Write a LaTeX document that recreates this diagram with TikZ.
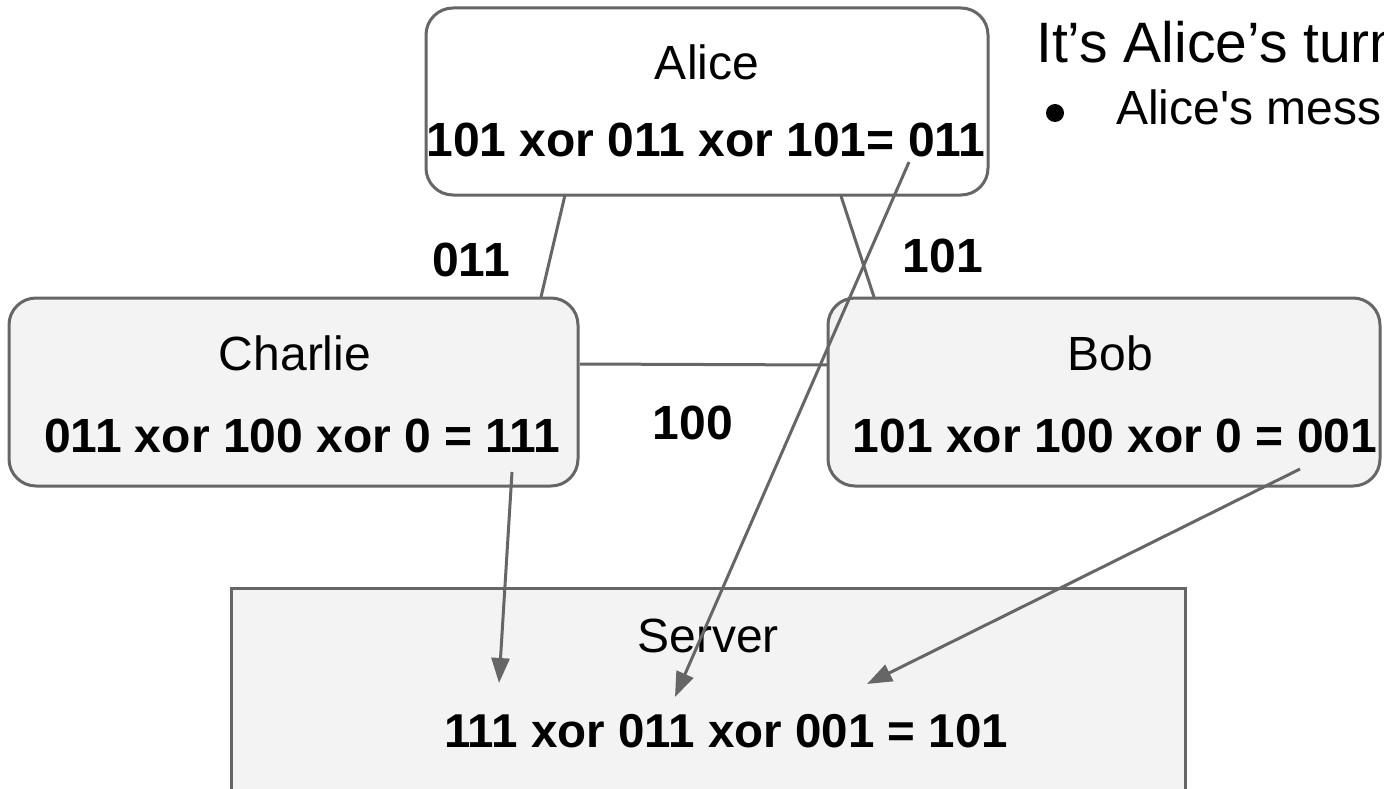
\documentclass[tikz,border=0pt]{standalone}
\usepackage{fontspec}
\setmainfont{Liberation Sans}
\newfontfamily\rawsans{Liberation Sans}
\usetikzlibrary{arrows.meta}
\definecolor{edgegray}{HTML}{666666}
\definecolor{boxfill}{HTML}{F3F3F3}
\begin{document}
\begin{tikzpicture}[x=1pt,y=-1pt,
  box/.style={draw=edgegray, line width=3pt, rounded corners=27pt, inner sep=0pt},
  txt/.style={anchor=base, inner sep=0pt, font=\fontsize{48}{56}\selectfont},
  btxt/.style={anchor=base, inner sep=0pt, font=\fontsize{48}{56}\selectfont\bfseries},
  conn/.style={draw=edgegray, line width=3pt},
  arr/.style={conn, -{Triangle[length=25pt,width=18pt]}}]
\clip (0,0) rectangle (1384,789);
\fill[white] (0,0) rectangle (1384,789);
% boxes
\node[box, fill=white, minimum width=562pt, minimum height=187pt] (alice) at (707,101.5) {};
\node[box, fill=boxfill, minimum width=569pt, minimum height=188pt] (charlie) at (293.5,392) {};
\node[box, fill=boxfill, minimum width=552pt, minimum height=188pt] (bob) at (1104,392) {};
\node[draw=edgegray, line width=3pt, fill=boxfill, minimum width=954pt, minimum height=300pt, inner sep=0pt, anchor=north] (server) at (708,587) {};
% texts
\node[txt] (aliceName) at (707,80) {Alice};
\node[btxt] (aliceCalc) at (706,157) {101 xor 011 xor 101= 011};
\node[txt] (charlieName) at (295,370) {Charlie};
\node[btxt] (charlieCalc) at (302.5,452) {011 xor 100 xor 0 = 111};
\node[txt] (bobName) at (1110,370) {Bob};
\node[btxt] (bobCalc) at (1115,452) {101 xor 100 xor 0 = 001};
\node[txt] (serverName) at (708,652) {Server};
\node[btxt, font=\fontsize{47.5}{56}\selectfont\bfseries] (serverCalc) at (726,747) {111 xor 011 xor 001 = 101};
\node[btxt] (lab011) at (471,276) {011};
\node[btxt] (lab101) at (943,272) {101};
\node[btxt] (lab100) at (693,439) {100};
\node[anchor=base west, inner sep=0pt, font=\fontsize{57}{66}\selectfont] (title) at (1036,63) {It’s Alice’s turn};
\node[circle, fill=black, minimum size=18pt, inner sep=0pt] (bullet) at (1055,113) {};
\node[anchor=base west, inner sep=0pt, font=\rawsans\fontsize{48}{56}\selectfont] (bulletText) at (1116,125) {Alice's mess};
% connector end points
\coordinate (acTop) at (565,195);
\coordinate (acBot) at (541,297);
\coordinate (abTop) at (841,196);
\coordinate (abBot) at (874,297);
\coordinate (cbL) at (580,364);
\coordinate (cbR) at (828,365);
\coordinate (csFrom) at (512,472);
\coordinate (csTo) at (499,683);
\coordinate (asFrom) at (909,162);
\coordinate (asTo) at (675,697);
\coordinate (bsFrom) at (1300,469);
\coordinate (bsTo) at (867,684);
% connectors
\draw[conn] (acTop) -- (acBot);
\draw[conn] (abTop) -- (abBot);
\draw[conn] (cbL) -- (cbR);
\draw[arr] (csFrom) -- (csTo);
\draw[arr] (asFrom) -- (asTo);
\draw[arr] (bsFrom) -- (bsTo);
\end{tikzpicture}
\end{document}
